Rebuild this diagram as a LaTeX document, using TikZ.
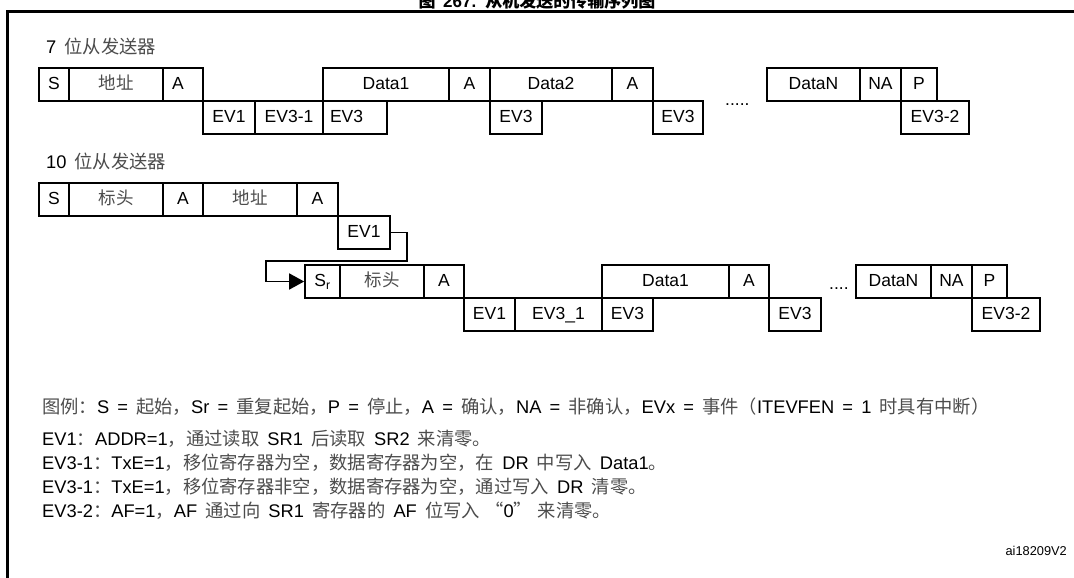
\documentclass[tikz,border=0pt]{standalone}
\usepackage{fontspec}
\setmainfont{Liberation Sans}[WordSpace=1.6]
\newfontfamily\cjk{Noto Sans CJK SC}
\usepackage{xcolor}
\usetikzlibrary{positioning,calc,arrows.meta}

\definecolor{cjkgray}{gray}{0.3}
\newcommand{\zh}[1]{{\cjk\color{cjkgray}#1}}
\newcommand{\zhb}[1]{{\cjk #1}}

\tikzset{
  cell/.style={draw, line width=1.7pt, inner sep=0pt, minimum height=33pt,
    text height=12pt, text depth=2pt, font=\fontsize{17.5}{20}\selectfont},
  txt/.style={anchor=base west, inner sep=0pt, font=\fontsize{18.3}{22}\selectfont},
}

\begin{document}
\begin{tikzpicture}[x=1pt, y=-1pt]
  \useasboundingbox (0,0) rectangle (1074,578);

  % Frame and title
  \draw[line width=3pt] (7.5,600) -- (7.5,12) -- (1100,12);
  \node[anchor=base, inner sep=0pt, font=\fontsize{17}{20}\selectfont\bfseries] (title) at (537,7.5)
    {\zhb{图} 267. \zhb{从机发送的传输序列图}};

  % 7-bit slave transmitter
  \node[txt] (head7) at (46,54) {7 \zh{位从发送器}};
  \node[cell, minimum width=30pt] (s7) at (54,84.5) {S};
  \node[cell, minimum width=94pt] (addr7) at (116,84.5) {\zh{地址}};
  \node[cell, minimum width=40pt, text width=22pt, align=left] (ack7a) at (183,84.5) {A};
  \node[cell, minimum width=126pt] (data7a) at (386,84.5) {Data1};
  \node[cell, minimum width=41pt] (ack7b) at (469.5,84.5) {A};
  \node[cell, minimum width=122pt] (data7b) at (551,84.5) {Data2};
  \node[cell, minimum width=41pt] (ack7c) at (632.5,84.5) {A};
  \node[cell, minimum width=93pt] (data7n) at (813.5,84.5) {DataN};
  \node[cell, minimum width=41pt] (nack7) at (880.5,84.5) {NA};
  \node[cell, minimum width=36pt] (stop7) at (919,84.5) {P};

  % 7-bit events
  \node[cell, minimum width=52pt] (ev7a) at (229,117.5) {EV1};
  \node[cell, minimum width=68pt] (ev7b) at (289,117.5) {EV3-1};
  \node[cell, minimum width=64pt, text width=50pt, align=left] (ev7c) at (355,117.5) {EV3};
  \node[cell, minimum width=52pt] (ev7d) at (516,117.5) {EV3};
  \node[cell, minimum width=50pt] (ev7e) at (678,117.5) {EV3};
  \node[cell, minimum width=68pt] (ev7f) at (935,117.5) {EV3-2};
  \node[txt, font=\fontsize{17.5}{20}\selectfont] (dots7) at (725,105) {.....};

  % 10-bit slave transmitter, header part
  \node[txt] (head10) at (46,168) {10 \zh{位从发送器}};
  \node[cell, minimum width=30pt] (s10) at (54,199.5) {S};
  \node[cell, minimum width=94pt] (hdr10a) at (116,199.5) {\zh{标头}};
  \node[cell, minimum width=40pt] (ack10a) at (183,199.5) {A};
  \node[cell, minimum width=94pt] (addr10) at (250,199.5) {\zh{地址}};
  \node[cell, minimum width=41pt] (ack10b) at (317.5,199.5) {A};
  \node[cell, minimum width=52pt] (ev10a) at (364,232.5) {EV1};

  % 10-bit repeated start part
  \node[cell, minimum width=35pt] (sr10) at (322.5,281.5) {S\textsubscript{r}};
  \node[cell, minimum width=84pt] (hdr10b) at (382,281.5) {\zh{标头}};
  \node[cell, minimum width=40pt] (ack10c) at (444,281.5) {A};
  \node[cell, minimum width=127pt] (data10a) at (665.5,281.5) {Data1};
  \node[cell, minimum width=40pt] (ack10d) at (749,281.5) {A};
  \node[cell, minimum width=75pt] (data10n) at (893.5,281.5) {DataN};
  \node[cell, minimum width=41pt] (nack10) at (951.5,281.5) {NA};
  \node[cell, minimum width=35pt] (stop10) at (989.5,281.5) {P};

  % 10-bit events
  \node[cell, minimum width=51pt] (ev10b) at (489.5,314.5) {EV1};
  \node[cell, minimum width=87pt] (ev10c) at (558.5,314.5) {EV3\_1};
  \node[cell, minimum width=51pt] (ev10d) at (627.5,314.5) {EV3};
  \node[cell, minimum width=52pt] (ev10e) at (795,314.5) {EV3};
  \node[cell, minimum width=68pt] (ev10f) at (1006,314.5) {EV3-2};
  \node[txt, font=\fontsize{17.5}{20}\selectfont] (dots10) at (829,289) {....};

  % Return path to the repeated start
  \coordinate (bendr) at (407,261);
  \coordinate (bendl) at (266,261);
  \draw[line width=1.7pt, -{Triangle[length=15pt,width=16pt]}]
    (ev10a.east) -| (bendr) -- (bendl) |- (sr10.west);

  % Legend
  \node[txt] (key) at (42,413) {\zh{图例：}S = \zh{起始，}Sr = \zh{重复起始，}P = \zh{停止，}A = \zh{确认，}NA = \zh{非确认，}EVx = \zh{事件（}ITEVFEN = 1 \zh{时具有中断）}};
  \node[txt] (note1) at (42,445) {EV1\zh{：}ADDR=1\zh{，通过读取} SR1 \zh{后读取} SR2 \zh{来清零。}};
  \node[txt] (note2) at (42,469) {EV3-1\zh{：}TxE=1\zh{，移位寄存器为空，数据寄存器为空，在} DR \zh{中写入} Data1\zh{。}};
  \node[txt] (note3) at (42,493) {EV3-1\zh{：}TxE=1\zh{，移位寄存器非空，数据寄存器为空，通过写入} DR \zh{清零。}};
  \node[txt] (note4) at (42,517) {EV3-2\zh{：}AF=1\zh{，}AF \zh{通过向} SR1 \zh{寄存器的} AF \zh{位写入}\hspace{0.3em}\zh{“}0\zh{”}\hspace{0.3em}\zh{来清零。}};

  \node[anchor=base east, inner sep=0pt, font=\fontsize{12.8}{15}\selectfont] (fig) at (1067,555) {ai18209V2};
\end{tikzpicture}
\end{document}
